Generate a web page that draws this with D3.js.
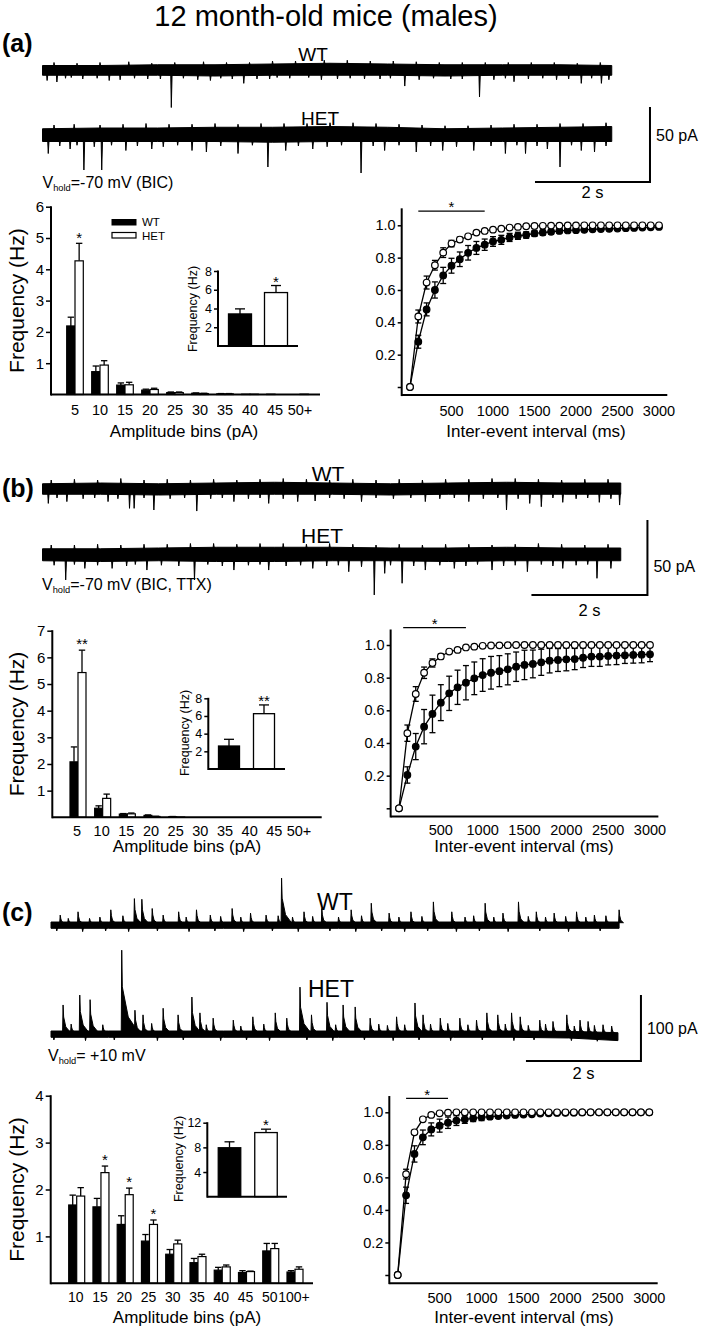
<!DOCTYPE html>
<html><head><meta charset="utf-8">
<script src="https://d3js.org/d3.v7.min.js"></script>
<style>
html,body{margin:0;padding:0;background:#fff;}
svg{display:block;}
text{font-family:"Liberation Sans",Arial,Helvetica,sans-serif;fill:#000;}
</style></head><body>
<svg id="fig" width="701" height="1329"></svg>
<script>
// ================= DATA =================
const titleText = "12 month-old mice (males)";
const panelLetters = ["(a)", "(b)", "(c)"];
const vholdA = ["V", "hold", "=-70 mV (BIC)"];
const vholdB = ["V", "hold", "=-70 mV (BIC, TTX)"];
const vholdC = ["V", "hold", "= +10 mV"];

// amplitude histograms (Hz)
const binsAB = ["5","10","15","20","25","30","35","40","45","50+"];
const binsC  = ["10","15","20","25","30","35","40","45","50","100+"];

const ampA_WT     = [2.19,0.73,0.30,0.14,0.06,0.04,0.02,0.01,0.01,0.00];
const ampA_WTerr  = [0.28,0.18,0.07,0.03,0.02,0.01,0.01,0.00,0.00,0.00];
const ampA_HET    = [4.27,0.94,0.31,0.16,0.06,0.03,0.02,0.01,0.00,0.01];
const ampA_HETerr = [0.56,0.14,0.08,0.04,0.02,0.01,0.01,0.00,0.00,0.00];

const ampB_WT     = [2.08,0.34,0.12,0.07,0.02,0,0,0,0,0];
const ampB_WTerr  = [0.56,0.09,0.02,0.02,0.01,0,0,0,0,0];
const ampB_HET    = [5.43,0.71,0.13,0.03,0.01,0,0,0,0,0];
const ampB_HETerr = [0.84,0.16,0.03,0.01,0,0,0,0,0,0];

const ampC_WT     = [1.67,1.63,1.255,0.90,0.62,0.44,0.28,0.23,0.69,0.24];
const ampC_WTerr  = [0.21,0.18,0.185,0.14,0.10,0.09,0.06,0.04,0.16,0.03];
const ampC_HET    = [1.86,2.36,1.89,1.255,0.84,0.57,0.35,0.25,0.74,0.30];
const ampC_HETerr = [0.18,0.14,0.14,0.095,0.08,0.05,0.04,0.01,0.11,0.05];

const sigBinsA = ["5"],  sigMarksA = ["*"];
const sigBinsB = ["5"],  sigMarksB = ["**"];
const sigBinsC = ["15","20","25"], sigMarksC = ["*","*","*"];

// inset: total frequency (Hz)
const genotypes = ["WT","HET"];
const totalA = [3.42, 5.70],  totalAerr = [0.54, 0.75], totalAsig = "*";
const totalB = [2.60, 6.26],  totalBerr = [0.76, 0.99], totalBsig = "**";
const totalC = [7.94, 10.40], totalCerr = [0.96, 0.55], totalCsig = "*";

const mainTicksA = [1,2,3,4,5,6], mainTicksB = [1,2,3,4,5,6,7], mainTicksC = [1,2,3,4];
const insetTicksA = [2,4,6,8], insetTicksB = [2,4,6,8], insetTicksC = [4,8,12];

// cumulative inter-event interval distributions
const iei = [0,100,200,300,400,500,600,700,800,900,1000,1100,1200,1300,1400,1500,
             1600,1700,1800,1900,2000,2100,2200,2300,2400,2500,2600,2700,2800,2900,3000];
const ieiTicks = [500,1000,1500,2000,2500,3000];
const cumTicks = [0,0.2,0.4,0.6,0.8,1.0];

const cdfA_WT     = [0,0.28,0.48,0.60,0.69,0.75,0.79,0.83,0.86,0.88,0.90,0.91,0.925,0.935,0.94,0.95,
                     0.955,0.96,0.965,0.968,0.97,0.972,0.975,0.977,0.978,0.98,0.982,0.984,0.986,0.988,0.99];
const cdfA_WTerr  = [0,0.04,0.04,0.05,0.05,0.046,0.045,0.045,0.04,0.035,0.03,0.028,0.025,0.022,0.02,0.018,
                     0.016,0.014,0.012,0.011,0.01,0.009,0.008,0.008,0.007,0.007,0.006,0.006,0.005,0.005,0.005];
const cdfA_HET    = [0,0.436,0.646,0.753,0.831,0.887,0.912,0.932,0.955,0.965,0.973,0.979,0.986,0.99,0.994,0.996,
                     0.997,0.998,0.998,0.999,0.999,1,1,1,1,1,1,1,1,1,1];
const cdfA_HETerr = [0,0.04,0.04,0.03,0.03,0.02,0.015,0.01,0.01,0.008,0.006,0.005,0.004,0.003,0.002,0.002,
                     0.001,0.001,0,0,0,0,0,0,0,0,0,0,0,0,0];
const cdfA_sig = [100, 900, 1.088];

const cdfB_WT     = [0,0.204,0.378,0.50,0.578,0.647,0.704,0.741,0.769,0.796,0.816,0.83,0.84,0.851,0.867,0.878,
                     0.884,0.894,0.904,0.908,0.912,0.914,0.922,0.929,0.929,0.933,0.935,0.937,0.939,0.941,0.943];
const cdfB_WTerr  = [0,0.05,0.08,0.105,0.115,0.11,0.105,0.105,0.105,0.10,0.10,0.10,0.095,0.095,0.09,0.09,
                     0.085,0.08,0.075,0.07,0.07,0.065,0.06,0.06,0.06,0.055,0.055,0.05,0.05,0.05,0.045];
const cdfB_HET    = [0,0.46,0.70,0.83,0.89,0.93,0.96,0.97,0.985,0.99,0.995,0.997,0.998,0.999,1,1,
                     1,1,1,1,1,1,1,1,1,1,1,1,1,1,1];
const cdfB_HETerr = [0,0.05,0.045,0.035,0.025,0.015,0.01,0.008,0.005,0.004,0.003,0.002,0.001,0,0,0,
                     0,0,0,0,0,0,0,0,0,0,0,0,0,0,0];
const cdfB_sig = [50, 800, 1.107];

const cdfC_WT     = [0,0.49,0.744,0.846,0.895,0.918,0.936,0.949,0.957,0.963,0.969,0.973,0.977,0.98,0.984,0.986,
                     0.988,0.992,0.994,0.996,0.997,0.998,0.999,1,1,1,1,1,1,1,1];
const cdfC_WTerr  = [0,0.05,0.05,0.045,0.04,0.04,0.035,0.03,0.025,0.02,0.02,0.015,0.012,0.01,0.008,0.006,
                     0.005,0.004,0.003,0.002,0.002,0.001,0,0,0,0,0,0,0,0,0];
const cdfC_HET    = [0,0.62,0.877,0.957,0.984,0.994,0.998,1,1,1,1,1,1,1,1,1,
                     1,1,1,1,1,1,1,1,1,1,1,1,1,1,1];
const cdfC_HETerr = [0,0.03,0.012,0.008,0.005,0.003,0.002,0,0,0,0,0,0,0,0,0,
                     0,0,0,0,0,0,0,0,0,0,0,0,0,0,0];
const cdfC_sig = [100, 600, 1.086];

// example current traces: band envelope (pA, at envT seconds) and events [time s, amplitude pA]
const envT = [0,1,2,3,4,5,6,7,8,9,10];
const trA_WT_hi  = [3,3,3.5,3.5,4,4.5,4,3.5,3.5,3.5,3];
const trA_WT_lo  = [-3.5,-3.5,-3.5,-4,-3.5,-3.5,-3.5,-4,-3.5,-3.5,-3.5];
const trA_WT_ev  = [[0.08,-7],[0.25,-8],[0.5,-5],[1.16,-7],[1.83,-6],[2.24,-25],[2.92,-7],[3.5,-8.9],[3.73,-6],
                    [4.08,-5],[4.63,-5],[5.13,-6],[5.87,-6],[6.3,-10.7],[7.1,-6],[7.6,-18],[8.2,-7.8],[8.94,-6.5],
                    [9.37,-8.9],[9.72,-8.9],
                    [0.4,-5.5],[0.7,-6],[0.95,-5.5],[1.35,-6.5],[1.6,-5.5],[2.05,-6],[2.45,-5.5],[2.7,-6.5],
                    [3.1,-5.5],[3.3,-6],[3.95,-6],[4.3,-5.5],[4.85,-6.5],[5.35,-5.5],[5.6,-6],[6.05,-5.5],
                    [6.55,-6.5],[6.8,-5.5],[7.3,-6],[7.85,-6.5],[8.05,-5.5],[8.45,-6],[8.7,-5.5],[9.15,-6],
                    [9.55,-5.5],[9.85,-6.5],
                    [0.2,5],[0.6,4.5],[1.0,5],[1.5,5.5],[1.9,4.5],[2.3,5],[2.8,5.5],[3.2,5],[3.6,5],[4.0,6],
                    [4.4,6],[4.9,6.5],[5.3,6.5],[5.7,6],[6.1,6],[6.5,5.5],[6.9,5],[7.3,5],[7.7,5],[8.1,5],
                    [8.5,5],[8.9,5],[9.3,4.5],[9.7,5]];
const trA_HET_hi = [3.5,4,4,4.5,4.5,5,4.5,3.5,4,4.5,5];
const trA_HET_lo = [-5,-5,-5,-5,-5.5,-5,-5,-5,-5,-5,-5];
const trA_HET_ev = [[0.1,-13],[0.48,-10],[0.72,-24],[1.03,-24],[1.45,-11],[1.9,-10],[2.6,-11],[2.85,-12],
                    [3.4,-13],[3.92,-22],[4.23,-11],[4.7,-10],[5.54,-26],[5.95,-11],[6.5,-12],[6.96,-11],
                    [7.5,-11],[8.05,-13],[8.4,-13],[8.78,-10],[9.0,-22],[9.37,-11],[9.6,-12],
                    [0.3,-8],[0.6,-7.5],[0.9,-8.5],[1.2,-7.5],[1.65,-8],[2.1,-8.5],[2.35,-7.5],[3.1,-8],
                    [3.65,-7.5],[4.45,-8],[4.95,-8.5],[5.2,-7.5],[5.75,-8],[6.2,-7.5],[6.75,-8],[7.2,-8.5],
                    [7.8,-8],[8.25,-7.5],[8.6,-8],[9.2,-7.5],[9.8,-8],
                    [0.2,6],[0.55,6.5],[1.0,6],[1.4,6.5],[1.8,7],[2.2,6.5],[2.6,6.5],[3.0,7],[3.4,6.5],
                    [3.8,7],[4.2,7],[4.6,7],[5.0,7.5],[5.4,7.5],[5.8,7],[6.2,6.5],[6.6,6],[7.0,5.5],[7.4,5.5],
                    [7.8,6],[8.2,6.5],[8.6,6.5],[9.0,7],[9.4,7],[9.8,7.5]];

const trB_WT_hi  = [3.5,4,3.5,4,4.5,4,3.5,4,4.5,4,4];
const trB_WT_lo  = [-3.5,-3.5,-4,-3.5,-3.5,-3.5,-4,-3.5,-3.5,-3.5,-3.5];
const trB_WT_ev  = [[0.1,-9.6],[0.42,-8.4],[1.13,-8.4],[1.5,-12.9],[1.58,-12.9],[1.92,-14],[2.66,-14.7],
                    [3.3,-8.4],[3.9,-9.6],[4.4,-8.4],[4.7,-8],[5.5,-8.4],[6.6,-8.4],[7.35,-8.4],[8.0,-14],
                    [8.4,-9.6],[8.6,-11.8],[8.97,-8.9],[9.6,-8.9],[9.95,-10.7],
                    [0.25,-6],[0.7,-6.5],[0.9,-6],[1.3,-6.5],[1.75,-6],[2.2,-6.5],[2.45,-6],[2.9,-6.5],
                    [3.1,-6],[3.55,-6.5],[3.75,-6],[4.15,-6.5],[4.95,-6],[5.2,-6.5],[5.75,-6],[6.05,-6.5],
                    [6.35,-6],[6.85,-6.5],[7.1,-6],[7.6,-6.5],[7.85,-6],[8.2,-6.5],[8.8,-6],[9.2,-6.5],
                    [9.4,-6],[9.8,-6.5],
                    [0.15,6],[0.55,6.5],[0.95,6],[1.35,7],[1.75,6],[2.15,6.5],[2.55,6],[2.95,6.5],[3.35,6],
                    [3.75,6.5],[4.15,7],[4.55,6.5],[4.95,6],[5.35,6.5],[5.75,6],[6.15,6.5],[6.55,6],
                    [6.95,6.5],[7.35,6.5],[7.75,7],[8.15,7],[8.55,6.5],[8.95,6],[9.35,6.5],[9.75,6.5]];
const trB_HET_hi = [3.5,3.5,4,4.5,4.5,4.5,4,4,4.5,4,4];
const trB_HET_lo = [-4.5,-5,-4.5,-5,-5,-4.5,-4.5,-5,-4.5,-4.5,-4.5];
const trB_HET_ev = [[0.4,-17.3],[0.73,-9.6],[1.2,-9.6],[1.8,-10.7],[2.62,-17.3],[3.3,-10.7],[3.9,-10.7],
                    [4.66,-9.6],[5.28,-11.8],[5.72,-27.3],[5.9,-12.9],[6.2,-19.5],[6.6,-10.7],[7.1,-9.6],
                    [7.75,-10.7],[8.36,-11.8],[8.97,-9.6],[9.56,-16.2],[9.8,-9.6],
                    [0.2,-7.5],[0.55,-7],[0.95,-7.5],[1.45,-8],[1.6,-7],[2.05,-7.5],[2.35,-8],[2.85,-7],
                    [3.1,-8],[3.55,-7.5],[3.75,-7],[4.2,-8],[4.45,-7.5],[4.9,-8],[5.1,-7.5],[5.5,-8.5],
                    [6.0,-7.5],[6.4,-8],[6.85,-7.5],[7.3,-8],[7.5,-7],[7.95,-8],[8.15,-7.5],[8.6,-7],
                    [8.8,-8],[9.2,-7.5],[9.4,-7],
                    [0.15,6],[0.55,6],[0.95,6.5],[1.35,6],[1.75,6.5],[2.15,6.5],[2.55,7],[2.95,7],[3.35,6.5],
                    [3.75,7],[4.15,7],[4.55,6.5],[4.95,7],[5.35,6.5],[5.75,6],[6.15,6.5],[6.55,6],
                    [6.95,6.5],[7.35,6.5],[7.75,6],[8.15,6.5],[8.55,7],[8.95,6.5],[9.35,6],[9.75,6.5]];

const trC_WT_hi  = [4.5,4.5,4.5,4.5,4.5,4.5,4.5,4.5,4.5,4.5,4.5];
const trC_WT_lo  = [-5,-5,-5,-5,-5,-5,-5,-5,-5,-5,-5];
const trC_WT_ev  = [[0.16,15],[0.3,10],[0.47,20],[0.67,10],[0.85,12],[1.04,23],[1.25,14],[1.45,40],[1.58,39],
                    [1.76,25],[1.95,15],[2.22,20],[2.35,12],[2.53,23],[2.77,15],[2.95,13],[3.15,25],[3.3,12],
                    [3.47,18],[3.74,15],[3.95,14],[4.01,71],[4.2,12],[4.4,20],[4.55,13],[4.71,25],[5.0,12],
                    [5.22,23],[5.4,14],[5.57,33],[5.88,18],[6.05,12],[6.26,20],[6.45,13],[6.65,35],[6.97,20],
                    [7.2,12],[7.35,14],[7.55,33],[7.7,12],[7.86,18],[8.13,35],[8.3,13],[8.44,20],[8.6,12],
                    [8.75,18],[8.95,13],[9.14,20],[9.3,12],[9.45,15],[9.65,14],[9.88,23],
                    [0.1,-9],[0.55,-10],[0.95,-9],[1.35,-10],[1.85,-9],[2.4,-10],[2.85,-9],[3.35,-10],
                    [3.85,-9],[4.3,-10],[4.85,-9],[5.3,-10],[5.75,-9],[6.15,-10],[6.55,-9],[7.05,-10],
                    [7.45,-9],[7.95,-10],[8.5,-9],[9.0,-10],[9.55,-9]];
const trC_HET_hi = [4.5,4.5,4.5,4.5,4.5,4.5,4.5,4.5,4.5,4,2];
const trC_HET_lo = [-5,-5,-5,-5,-5,-5,-5,-5,-5,-6,-10];
const trC_HET_ev = [[0.21,44],[0.35,15],[0.5,59],[0.68,52],[0.9,14],[1.23,127],[1.46,36],[1.6,29],[1.75,16],
                    [1.95,39],[2.21,29],[2.45,56],[2.59,32],[2.7,14],[2.82,24],[3.17,21],[3.3,12],[3.51,26],
                    [3.7,15],[3.9,32],[4.1,24],[4.33,71],[4.53,29],[4.8,48],[4.95,14],[5.08,44],[5.29,41],
                    [5.55,24],[5.7,15],[5.85,13],[6.01,26],[6.15,14],[6.33,47],[6.47,29],[6.6,15],[6.77,24],
                    [6.9,16],[7.11,24],[7.25,14],[7.4,21],[7.58,32],[7.77,29],[7.9,15],[8.01,32],[8.16,26],
                    [8.3,13],[8.5,21],[8.6,15],[8.73,19],[8.97,29],[9.1,12],[9.2,21],[9.34,19],[9.45,13],
                    [9.6,14],[9.75,12],
                    [0.05,-9],[0.6,-10],[1.1,-9],[1.85,-10],[2.3,-9],[2.95,-10],[3.4,-9],[3.8,-10],
                    [4.45,-9],[4.9,-10],[5.45,-9],[5.95,-10],[6.4,-9],[6.95,-10],[7.5,-9],[8.05,-10],
                    [8.4,-9],[9.05,-10],[9.5,-11]];

// scale bars: [duration s, amplitude pA]
const scaleBarAB = [2, 50];
const scaleBarC  = [2, 100];

// ================= DRAWING =================
const svg = d3.select("#fig");
const BLACK = "#000";

function txt(g, x, y, s, size, anchor, weight) {
  return g.append("text").attr("x", x).attr("y", y).attr("font-size", size)
    .attr("text-anchor", anchor || "start").attr("font-weight", weight || "normal").text(s);
}
function ln(g, x1, y1, x2, y2, w) {
  return g.append("line").attr("x1", x1).attr("y1", y1).attr("x2", x2).attr("y2", y2)
    .attr("stroke", BLACK).attr("stroke-width", w || 1.3);
}
function vhold(g, x, y, parts, size) {
  const t = g.append("text").attr("x", x).attr("y", y).attr("font-size", size);
  t.append("tspan").text(parts[0]);
  t.append("tspan").attr("font-size", size * 0.58).attr("dy", 3).text(parts[1]);
  t.append("tspan").attr("dy", -3).text(parts[2]);
}
function star(g, x, yCenter, s, size) {
  txt(g, x, yCenter + size * 0.62, s, size, "middle");
}

// title & letters
txt(svg, 326, 26, titleText, 29, "middle");
txt(svg, 2, 52, panelLetters[0], 25, "start", "bold");
txt(svg, 2, 497, panelLetters[1], 25, "start", "bold");
txt(svg, 2, 921, panelLetters[2], 25, "start", "bold");

// ---------- traces ----------
function trace(o) {
  const g = svg.append("g");
  const x = d3.scaleLinear().domain([0, 10]).range([o.x0, o.x0 + 10 * o.pxs]);
  const y = d3.scaleLinear().domain([0, 50]).range([o.base, o.base - 50 * o.pxpa]);
  const pts = envT.map((t, i) => ({ t: Math.min(t, o.dur), hi: o.hi[i], lo: o.lo[i] }));
  const area = d3.area().x(d => x(d.t)).y0(d => y(d.lo)).y1(d => y(d.hi));
  g.append("path").attr("d", area(pts)).attr("fill", BLACK).attr("stroke", BLACK).attr("stroke-width", 1);
  const hiAt = d3.scaleLinear().domain(envT).range(o.hi);
  const loAt = d3.scaleLinear().domain(envT).range(o.lo);
  o.ev.forEach(([t, a]) => {
    let p;
    if (a < 0) {
      const b = loAt(t) + 1;
      p = `M${x(t - 0.01)},${y(b)}L${x(t)},${y(a)}L${x(t + 0.014)},${y(b)}Z`;
    } else if (!o.decay) {
      const b = hiAt(t) - 1;
      p = `M${x(t - 0.01)},${y(b)}L${x(t)},${y(a)}L${x(t + 0.014)},${y(b)}Z`;
    } else {
      const b = hiAt(t) - 1;
      const dec = 0.03 + a * 0.002;
      p = `M${x(t - 0.008)},${y(b)}L${x(t)},${y(a)}L${x(t + 0.01)},${y(b + (a - b) * 0.55)}` +
          `L${x(t + dec * 0.4)},${y(b + (a - b) * 0.18)}L${x(t + dec)},${y(b)}Z`;
    }
    g.append("path").attr("d", p).attr("fill", BLACK).attr("stroke", BLACK)
      .attr("stroke-width", 1).attr("stroke-linejoin", "round");
  });
  return { x, y };
}
function scaleBar(sc, o) {
  const g = svg.append("g");
  const xs = sc.x(o.t0), xe = sc.x(o.t0 + o.bar[0]);
  const yb = sc.y(o.pa0), yt = sc.y(o.pa0 + o.bar[1]);
  g.append("path").attr("d", `M${xs},${yb}L${xe},${yb}L${xe},${yt}`)
    .attr("fill", "none").attr("stroke", BLACK).attr("stroke-width", 2);
  txt(g, (xs + xe) / 2, o.sLabelY, o.bar[0] + " s", 16.5, "middle");
  txt(g, xe + 6, o.aLabelY, o.bar[1] + " pA", 16, "start");
}

// (a)
trace({ x0: 42.5, pxs: 57.5, dur: 9.9, base: 70, pxpa: 1.5, hi: trA_WT_hi, lo: trA_WT_lo, ev: trA_WT_ev });
const scA = trace({ x0: 42.5, pxs: 57.5, dur: 9.9, base: 134, pxpa: 1.5, hi: trA_HET_hi, lo: trA_HET_lo, ev: trA_HET_ev });
txt(svg, 313, 61, "WT", 19, "middle");
txt(svg, 320, 125, "HET", 19, "middle");
scaleBar(scA, { t0: 8.565, pa0: -32, bar: scaleBarAB, sLabelY: 198, aLabelY: 141 });
vhold(svg, 42.5, 188, vholdA, 16);

// (b)
trace({ x0: 42.5, pxs: 58, dur: 9.97, base: 489, pxpa: 1.5, hi: trB_WT_hi, lo: trB_WT_lo, ev: trB_WT_ev });
const scB = trace({ x0: 42.5, pxs: 58, dur: 9.97, base: 554, pxpa: 1.5, hi: trB_HET_hi, lo: trB_HET_lo, ev: trB_HET_ev });
txt(svg, 328, 481, "WT", 21, "middle");
txt(svg, 322, 543, "HET", 21, "middle");
scaleBar(scB, { t0: 8.43, pa0: -27.3, bar: scaleBarAB, sLabelY: 616, aLabelY: 572 });
vhold(svg, 42, 590, vholdB, 16);

// (c)
trace({ x0: 51, pxs: 57.5, dur: 9.88, base: 925, pxpa: 0.66, hi: trC_WT_hi, lo: trC_WT_lo, ev: trC_WT_ev, decay: true });
const scC = trace({ x0: 51, pxs: 57.5, dur: 9.86, base: 1034, pxpa: 0.66, hi: trC_HET_hi, lo: trC_HET_lo, ev: trC_HET_ev, decay: true });
txt(svg, 335, 910, "WT", 23, "middle");
txt(svg, 331, 997, "HET", 23, "middle");
scaleBar(scC, { t0: 8.26, pa0: -40.9, bar: scaleBarC, sLabelY: 1079, aLabelY: 1034 });
vhold(svg, 48, 1061, vholdC, 16);

// ---------- bar charts ----------
function yAxis(g, scale, ticks, x, size, tsize, pad, fmt) {
  const ax = d3.axisLeft(scale).tickValues(ticks).tickSize(tsize).tickPadding(pad)
    .tickFormat(fmt || d3.format("d"));
  const a = g.append("g").attr("transform", `translate(${x},0)`).call(ax);
  a.select(".domain").remove();
  a.selectAll(".tick line").attr("stroke", BLACK).attr("stroke-width", 1.5);
  a.selectAll(".tick text").attr("font-size", size).attr("fill", BLACK);
  return a;
}
function barChart(o) {
  const g = svg.append("g");
  const x = d3.scalePoint().domain(o.cats).range([o.c0, o.c1]);
  const y = d3.scaleLinear().domain([0, o.yMax]).range([o.y0, o.yTop]);
  const bw = o.bw;
  function bar(xl, v, e, fill) {
    if (v <= 0) return;
    const xm = xl + bw / 2;
    if (e > 0) {
      ln(g, xm, y(v), xm, y(v + e), 1.3);
      ln(g, xm - 3.2, y(v + e), xm + 3.2, y(v + e), 1.3);
    }
    g.append("rect").attr("x", xl).attr("y", y(v)).attr("width", bw).attr("height", y(0) - y(v))
      .attr("fill", fill).attr("stroke", BLACK).attr("stroke-width", 1.2);
  }
  o.cats.forEach((c, i) => {
    bar(x(c) - bw, o.wt[i], o.wtE[i], BLACK);
    bar(x(c), o.het[i], o.hetE[i], "#fff");
  });
  o.sigBins.forEach((c, k) => {
    const i = o.cats.indexOf(c);
    star(g, x(c) + bw / 2, y(o.het[i] + o.hetE[i]) - 10, o.sigMarks[k], 15);
  });
  ln(g, o.ax0, y(0), o.ax1, y(0), 2);
  ln(g, o.ax0, y(0) + 1, o.ax0, y(o.yMax) - 0.5, 2);
  yAxis(g, y, o.ticks, o.ax0, 15, 5, 2);
  o.cats.forEach(c => txt(g, x(c) + (o.labDx || 0), o.labY, c, o.labSize || 15, "middle"));
  txt(g, o.xTitleX, o.xTitleY, "Amplitude bins (pA)", 17, "middle");
  txt(g, 0, 0, "Frequency (Hz)", 21, "middle")
    .attr("transform", `translate(24,${(y(0) + y(o.yMax)) / 2}) rotate(-90)`);
  return g;
}
function inset(o) {
  const g = svg.append("g");
  const x = d3.scalePoint().domain(genotypes).range([o.cWT, o.cHET]);
  const y = d3.scaleLinear().domain([0, o.yMax]).range([o.y0, o.yTop]);
  genotypes.forEach((k, i) => {
    const xm = x(k), v = o.vals[i], e = o.errs[i];
    ln(g, xm, y(v), xm, y(v + e), 1.3);
    ln(g, xm - 5, y(v + e), xm + 5, y(v + e), 1.3);
    g.append("rect").attr("x", xm - o.bw / 2).attr("y", y(v)).attr("width", o.bw)
      .attr("height", y(0) - y(v)).attr("fill", i === 0 ? BLACK : "#fff")
      .attr("stroke", BLACK).attr("stroke-width", 1.3);
  });
  star(g, x("HET"), y(o.vals[1] + o.errs[1]) - 8, o.sig, 15);
  ln(g, o.ax0, y(0), o.ax1, y(0), 2);
  ln(g, o.ax0, y(0) + 1, o.ax0, y(o.yMax) - 0.5, 2);
  yAxis(g, y, o.ticks, o.ax0, 12.5, 4, 2);
  txt(g, 0, 0, "Frequency (Hz)", 12.5, "middle")
    .attr("transform", `translate(${o.labX},${o.labY}) rotate(-90)`);
}

// (a) histogram
barChart({ cats: binsAB, wt: ampA_WT, wtE: ampA_WTerr, het: ampA_HET, hetE: ampA_HETerr,
  sigBins: sigBinsA, sigMarks: sigMarksA, ticks: mainTicksA, yMax: 6,
  c0: 75, c1: 300, bw: 8.3, y0: 394.5, yTop: 206.7, ax0: 51, ax1: 320,
  labY: 415, labSize: 14.5, xTitleX: 184, xTitleY: 437 });
inset({ vals: totalA, errs: totalAerr, sig: totalAsig, ticks: insetTicksA, yMax: 8,
  cWT: 240, cHET: 276, bw: 23, y0: 346, yTop: 271, ax0: 218, ax1: 298, labX: 197, labY: 309 });
// legend
{
  const g = svg.append("g");
  g.append("rect").attr("x", 112).attr("y", 219.5).attr("width", 24).attr("height", 5.5).attr("fill", BLACK).attr("stroke", BLACK).attr("stroke-width", 1);
  g.append("rect").attr("x", 112).attr("y", 232.5).attr("width", 24).attr("height", 5.5).attr("fill", "#fff").attr("stroke", BLACK).attr("stroke-width", 1.2);
  txt(g, 142, 226, genotypes[0], 11.5);
  txt(g, 142, 239.5, genotypes[1], 11.5);
}

// (b) histogram
barChart({ cats: binsAB, wt: ampB_WT, wtE: ampB_WTerr, het: ampB_HET, hetE: ampB_HETerr,
  sigBins: sigBinsB, sigMarks: sigMarksB, ticks: mainTicksB, yMax: 7,
  c0: 78, c1: 300, bw: 8, y0: 817.3, yTop: 630.7, ax0: 52.3, ax1: 321.7,
  labY: 836, labSize: 14.5, labDx: -1, xTitleX: 187, xTitleY: 852 });
inset({ vals: totalB, errs: totalBerr, sig: totalBsig, ticks: insetTicksB, yMax: 8,
  cWT: 229, cHET: 264, bw: 21, y0: 769, yTop: 698.3, ax0: 208.3, ax1: 285, labX: 188.5, labY: 733 });

// (c) histogram
barChart({ cats: binsC, wt: ampC_WT, wtE: ampC_WTerr, het: ampC_HET, hetE: ampC_HETerr,
  sigBins: sigBinsC, sigMarks: sigMarksC, ticks: mainTicksC, yMax: 4,
  c0: 76.7, c1: 295, bw: 8, y0: 1283.3, yTop: 1095.7, ax0: 50.7, ax1: 313,
  labY: 1302, labSize: 14, labDx: -1, xTitleX: 187, xTitleY: 1323 });
inset({ vals: totalC, errs: totalCerr, sig: totalCsig, ticks: insetTicksC, yMax: 12,
  cWT: 229.5, cHET: 266, bw: 22.5, y0: 1196.7, yTop: 1122.7, ax0: 207.3, ax1: 287, labX: 183, labY: 1159 });

// ---------- cumulative plots ----------
function cdfPlot(o) {
  const g = svg.append("g");
  const x = d3.scaleLinear().domain([0, 3000]).range([o.x0, o.x3000]);
  const y = d3.scaleLinear().domain([0, 1]).range([o.y0, o.y1]);
  const line = d3.line().x((d, i) => x(iei[i])).y(d => y(d));
  function series(vals, errs, filled) {
    vals.forEach((v, i) => {
      const e = errs[i];
      if (e > 0.004) {
        const xm = x(iei[i]);
        ln(g, xm, y(v - e), xm, y(v + e), 1.3);
        ln(g, xm - 3, y(v - e), xm + 3, y(v - e), 1.3);
        ln(g, xm - 3, y(v + e), xm + 3, y(v + e), 1.3);
      }
    });
    g.append("path").attr("d", line(vals)).attr("fill", "none").attr("stroke", BLACK).attr("stroke-width", 1.3);
    g.selectAll(null).data(vals).enter().append("circle")
      .attr("cx", (d, i) => x(iei[i])).attr("cy", d => y(d)).attr("r", 3.3)
      .attr("fill", filled ? BLACK : "#fff").attr("stroke", BLACK).attr("stroke-width", 1.2);
  }
  series(o.wt, o.wtE, true);
  series(o.het, o.hetE, false);
  // significance bar
  ln(g, x(o.sig[0]), y(o.sig[2]), x(o.sig[1]), y(o.sig[2]), 1.3);
  star(g, (x(o.sig[0]) + x(o.sig[1])) / 2, y(o.sig[2]) - 8, "*", 15);
  // axes
  ln(g, x(-100), y(-0.05), x(3100), y(-0.05), 2);
  ln(g, x(-100), y(-0.05) + 1, x(-100), y(o.yTopV), 2);
  yAxis(g, y, cumTicks, x(-100), 14.5, 4, 2, d => d === 0 ? "" : d3.format(".1f")(d));
  ieiTicks.forEach(t => txt(g, x(t), o.labY, String(t), 14.5, "middle"));
  txt(g, o.titleX, o.titleY, "Inter-event interval (ms)", 17, "middle");
}
cdfPlot({ wt: cdfA_WT, wtE: cdfA_WTerr, het: cdfA_HET, hetE: cdfA_HETerr, sig: cdfA_sig,
  x0: 410, x3000: 659, y0: 387, y1: 225.3, yTopV: 1.105, labY: 416, titleX: 536, titleY: 437 });
cdfPlot({ wt: cdfB_WT, wtE: cdfB_WTerr, het: cdfB_HET, hetE: cdfB_HETerr, sig: cdfB_sig,
  x0: 399, x3000: 650, y0: 808.3, y1: 645, yTopV: 1.095, labY: 835, titleX: 524, titleY: 852 });
cdfPlot({ wt: cdfC_WT, wtE: cdfC_WTerr, het: cdfC_HET, hetE: cdfC_HETerr, sig: cdfC_sig,
  x0: 397.7, x3000: 649.3, y0: 1275, y1: 1112.3, yTopV: 1.10, labY: 1303, titleX: 524, titleY: 1323 });
</script>
</body></html>
